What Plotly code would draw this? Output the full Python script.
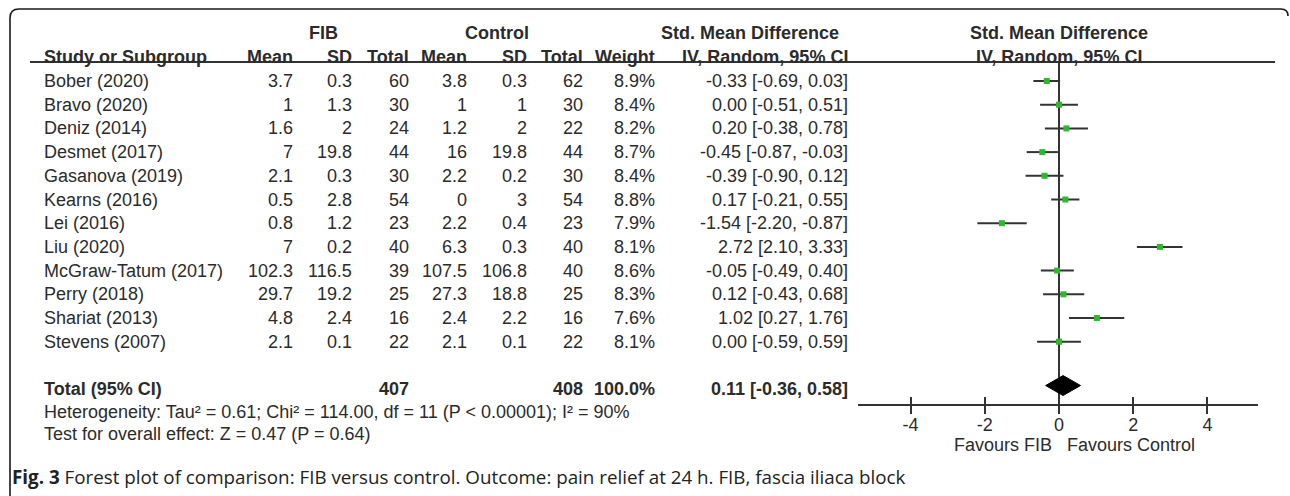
import plotly.graph_objects as go

W, H = 1290, 496

studies = ["Bober (2020)", "Bravo (2020)", "Deniz (2014)", "Desmet (2017)", "Gasanova (2019)",
           "Kearns (2016)", "Lei (2016)", "Liu (2020)", "McGraw-Tatum (2017)", "Perry (2018)",
           "Shariat (2013)", "Stevens (2007)"]
fib_mean = ["3.7", "1", "1.6", "7", "2.1", "0.5", "0.8", "7", "102.3", "29.7", "4.8", "2.1"]
fib_sd = ["0.3", "1.3", "2", "19.8", "0.3", "2.8", "1.2", "0.2", "116.5", "19.2", "2.4", "0.1"]
fib_n = [60, 30, 24, 44, 30, 54, 23, 40, 39, 25, 16, 22]
ctl_mean = ["3.8", "1", "1.2", "16", "2.2", "0", "2.2", "6.3", "107.5", "27.3", "2.4", "2.1"]
ctl_sd = ["0.3", "1", "2", "19.8", "0.2", "3", "0.4", "0.3", "106.8", "18.8", "2.2", "0.1"]
ctl_n = [62, 30, 22, 44, 30, 54, 23, 40, 40, 25, 16, 22]
weight = [8.9, 8.4, 8.2, 8.7, 8.4, 8.8, 7.9, 8.1, 8.6, 8.3, 7.6, 8.1]
smd = [-0.33, 0.00, 0.20, -0.45, -0.39, 0.17, -1.54, 2.72, -0.05, 0.12, 1.02, 0.00]
ci_lo = [-0.69, -0.51, -0.38, -0.87, -0.90, -0.21, -2.20, 2.10, -0.49, -0.43, 0.27, -0.59]
ci_hi = [0.03, 0.51, 0.78, -0.03, 0.12, 0.55, -0.87, 3.33, 0.40, 0.68, 1.76, 0.59]

total_fib_n = 407
total_ctl_n = 408
total_weight = "100.0%"
total_smd, total_lo, total_hi = 0.11, -0.36, 0.58

tick_vals = [-4, -2, 0, 2, 4]
tick_text = ["-4", "-2", "0", "2", "4"]

FONT = "Liberation Sans, Arial, sans-serif"
TXT = "#2b2b2b"
FS = 18

rows = list(range(len(studies)))
total_row = 12.85


def px(x):
    return x / W


def py(y):
    return 1 - y / H


fig = go.Figure()

# CI lines + green squares
fig.add_trace(go.Scatter(
    x=smd, y=rows, mode="markers",
    marker=dict(symbol="square", size=6, color="#2eb82e", line=dict(width=0)),
    error_x=dict(type="data", symmetric=False,
                 array=[h - m for h, m in zip(ci_hi, smd)],
                 arrayminus=[m - l for m, l in zip(smd, ci_lo)],
                 thickness=2, width=0, color="#333333"),
    showlegend=False, hoverinfo="skip"))

# Diamond for pooled estimate
dh = 0.42
fig.add_trace(go.Scatter(
    x=[total_lo, total_smd, total_hi, total_smd, total_lo],
    y=[total_row, total_row - dh, total_row, total_row + dh, total_row],
    mode="lines", fill="toself", fillcolor="#000000",
    line=dict(color="#000000", width=1), showlegend=False, hoverinfo="skip"))

# invisible trace on overlay axis for upward tick marks
fig.add_trace(go.Scatter(x=[0], y=[0], xaxis="x2", mode="markers",
                         marker=dict(opacity=0), showlegend=False, hoverinfo="skip"))

ann = []


def txt(x, y, s, anchor="right", bold=False, yref="y", size=FS, family=FONT, color=TXT):
    ann.append(dict(x=x, y=y, xref="paper", yref=yref, text=f"<b>{s}</b>" if bold else s,
                    showarrow=False, xanchor=anchor, yanchor="middle",
                    font=dict(family=family, size=size, color=color)))


LEFT = 42
col_right = dict(fm=295, fs=354, fn=411, cm=469, cs=529, cn=585, w=657, ci=850)

for i, s in enumerate(studies):
    txt(px(LEFT), i, s, anchor="left")
    txt(px(col_right["fm"]), i, fib_mean[i])
    txt(px(col_right["fs"]), i, fib_sd[i])
    txt(px(col_right["fn"]), i, str(fib_n[i]))
    txt(px(col_right["cm"]), i, ctl_mean[i])
    txt(px(col_right["cs"]), i, ctl_sd[i])
    txt(px(col_right["cn"]), i, str(ctl_n[i]))
    txt(px(col_right["w"]), i, f"{weight[i]:.1f}%")
    txt(px(col_right["ci"]), i, f"{smd[i]:.2f} [{ci_lo[i]:.2f}, {ci_hi[i]:.2f}]")

# Total row
tr = 13.0
txt(px(LEFT), tr, "Total (95% CI)", anchor="left", bold=True)
txt(px(col_right["fn"]), tr, str(total_fib_n), bold=True)
txt(px(col_right["cn"]), tr, str(total_ctl_n), bold=True)
txt(px(col_right["w"]), tr, total_weight, bold=True)
txt(px(col_right["ci"]), tr, f"{total_smd:.2f} [{total_lo:.2f}, {total_hi:.2f}]", bold=True)

# Headers
txt(px(323), py(33), "FIB", anchor="center", bold=True, yref="paper")
txt(px(497), py(33), "Control", anchor="center", bold=True, yref="paper")
txt(px(750), py(33), "Std. Mean Difference", anchor="center", bold=True, yref="paper")
txt(px(1059), py(33), "Std. Mean Difference", anchor="center", bold=True, yref="paper")
hy = py(57)
txt(px(LEFT), hy, "Study or Subgroup", anchor="left", bold=True, yref="paper")
txt(px(col_right["fm"]), hy, "Mean", bold=True, yref="paper")
txt(px(col_right["fs"]), hy, "SD", bold=True, yref="paper")
txt(px(col_right["fn"]), hy, "Total", bold=True, yref="paper")
txt(px(col_right["cm"]), hy, "Mean", bold=True, yref="paper")
txt(px(col_right["cs"]), hy, "SD", bold=True, yref="paper")
txt(px(col_right["cn"]), hy, "Total", bold=True, yref="paper")
txt(px(col_right["w"]), hy, "Weight", bold=True, yref="paper")
txt(px(col_right["ci"]), hy, "IV, Random, 95% CI", bold=True, yref="paper")
txt(px(1059), hy, "IV, Random, 95% CI", anchor="center", bold=True, yref="paper")

# Footnotes
txt(px(LEFT), py(412), "Heterogeneity: Tau² = 0.61; Chi² = 114.00, df = 11 (P < 0.00001); I² = 90%",
    anchor="left", yref="paper")
txt(px(LEFT), py(434), "Test for overall effect: Z = 0.47 (P = 0.64)", anchor="left", yref="paper")

# Favours labels
txt(px(1054), py(445), "Favours FIB", anchor="right", yref="paper")
txt(px(1065), py(445), "Favours Control", anchor="left", yref="paper")

# Caption
ann.append(dict(x=px(10), y=py(477), xref="paper", yref="paper",
                text="<b>Fig. 3</b> Forest plot of comparison: FIB versus control. Outcome: pain relief at 24 h. FIB, fascia iliaca block",
                showarrow=False, xanchor="left", yanchor="middle",
                font=dict(family="Open Sans, sans-serif", size=18.8, color="#222222")))

shapes = []
# header rule
shapes.append(dict(type="line", xref="paper", yref="paper", x0=px(30), x1=px(1275),
                   y0=py(62), y1=py(62), line=dict(color="#333333", width=2)))
# zero line
shapes.append(dict(type="line", xref="x", yref="y domain", x0=0, x1=0, y0=0, y1=1,
                   line=dict(color="#333333", width=2), layer="below"))
# frame (top + left with rounded corners)
r = 9
path = (f"M {px(10)},{py(500)} L {px(10)},{py(9 + r)} "
        f"Q {px(10)},{py(9)} {px(10 + r)},{py(9)} "
        f"L {px(1281)},{py(9)} Q {px(1288)},{py(9)} {px(1288)},{py(16)}")
shapes.append(dict(type="path", xref="paper", yref="paper", path=path,
                   line=dict(color="#1a1a1a", width=1.6)))

x_lo = (858 - 1059) / 37.1
x_hi = (1258 - 1059) / 37.1
y_top = (62 - 81) / 23.7
y_bot = (404 - 81) / 23.7

fig.update_layout(
    width=W, height=H, margin=dict(l=0, r=0, t=0, b=0),
    paper_bgcolor="white", plot_bgcolor="rgba(0,0,0,0)",
    showlegend=False, annotations=ann, shapes=shapes,
    xaxis=dict(domain=[px(858), px(1258)], range=[x_lo, x_hi], anchor="y",
               tickvals=tick_vals, ticktext=tick_text, showline=True, linecolor="#333333",
               linewidth=2, ticks="outside", ticklen=8, tickwidth=2, tickcolor="#333333",
               ticklabelstandoff=-5,
               showgrid=False, zeroline=False, fixedrange=True,
               tickfont=dict(family=FONT, size=FS, color=TXT)),
    xaxis2=dict(overlaying="x", matches="x", anchor="y", tickvals=tick_vals,
                ticks="inside", ticklen=7, tickwidth=2, tickcolor="#333333",
                showticklabels=False, showline=False, showgrid=False, zeroline=False),
    yaxis=dict(domain=[py(404), py(62)], range=[y_bot, y_top], visible=False,
               showgrid=False, zeroline=False, fixedrange=True),
)

fig.write_html("out.html", config={"displayModeBar": False},
               post_script="document.body.style.margin='0';document.body.style.padding='0';")
